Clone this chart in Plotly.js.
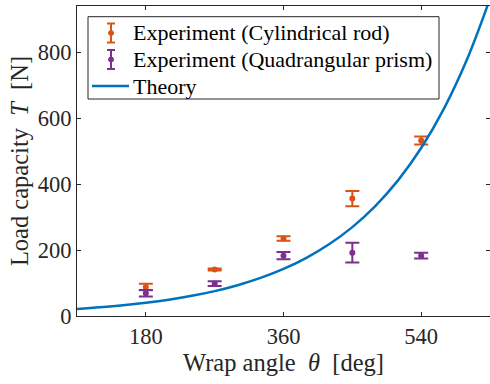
<!DOCTYPE html>
<html>
<head>
<meta charset="utf-8">
<script src="https://cdn.plot.ly/plotly-3.0.1.min.js"></script>
<style>html,body{margin:0;padding:0;background:#fff;}#chart{width:490px;height:384px;}</style>
</head>
<body>
<div id="chart"></div>
<script>
// Wrap angles (deg) of the experiments
const angles = [180, 270, 360, 450, 540];
// Experiment (Cylindrical rod): mean and error
const rodMean = [88, 141, 235, 356, 532];
const rodErr = [10, 3, 7, 23, 12];
// Experiment (Quadrangular prism): mean and error
const prismMean = [69, 98, 183, 192, 183];
const prismErr = [10, 7, 11, 30, 9];
// Theory curve
const theoryAngle = [90,120,150,180,210,240,270,300,330,360,390,420,450,480,510,540,570,600,630];
const theoryLoad = [21.2,26.2,32.3,40.0,49.4,61.1,75.5,93.4,115.4,142.7,176.4,218.1,269.6,333.3,412.0,509.3,629.6,778.3,962.2];
const xTicks = [180, 360, 540];
const yTicks = [0, 200, 400, 600, 800];
const legendNames = ['Experiment (Cylindrical rod)', 'Experiment (Quadrangular prism)', 'Theory'];

const cRod = '#D95319', cPrism = '#7E2F8E', cTheory = '#0072BD', cAx = '#262626';
const font = 'Liberation Serif, Times New Roman, serif';

const traces = [
  {x: angles, y: rodMean, type: 'scatter', mode: 'markers', showlegend: false,
   marker: {color: cRod, size: 6},
   error_y: {type: 'data', array: rodErr, visible: true, color: cRod, thickness: 2, width: 7}},
  {x: angles, y: prismMean, type: 'scatter', mode: 'markers', showlegend: false,
   marker: {color: cPrism, size: 6},
   error_y: {type: 'data', array: prismErr, visible: true, color: cPrism, thickness: 2, width: 7}},
  {x: theoryAngle, y: theoryLoad, type: 'scatter', mode: 'lines', showlegend: false,
   line: {color: cTheory, width: 2.5, shape: 'spline'}}
];

// manual legend (paper coordinates)
const L = 77, W = 413, B = 316, H = 310;
const px = v => (v - L) / W, py = v => (B - v) / H;
const rows = [33, 59.5, 86];
const shapes = [
  {type: 'rect', xref: 'paper', yref: 'paper', x0: px(88), x1: px(439), y0: py(99), y1: py(16.7),
   line: {color: cAx, width: 1}, fillcolor: 'white', layer: 'above'}
];
[[cRod, rows[0]], [cPrism, rows[1]]].forEach(([c, r]) => {
  shapes.push({type: 'line', xref: 'paper', yref: 'paper', x0: px(111), x1: px(111), y0: py(r - 9.5), y1: py(r + 9.5), line: {color: c, width: 2}, layer: 'above'});
  shapes.push({type: 'line', xref: 'paper', yref: 'paper', x0: px(107), x1: px(115), y0: py(r - 9.5), y1: py(r - 9.5), line: {color: c, width: 2}, layer: 'above'});
  shapes.push({type: 'line', xref: 'paper', yref: 'paper', x0: px(107), x1: px(115), y0: py(r + 9.5), y1: py(r + 9.5), line: {color: c, width: 2}, layer: 'above'});
  shapes.push({type: 'circle', xref: 'paper', yref: 'paper', x0: px(108.5), x1: px(113.5), y0: py(r + 2.5), y1: py(r - 2.5), line: {color: c, width: 1}, fillcolor: c, layer: 'above'});
});
shapes.push({type: 'line', xref: 'paper', yref: 'paper', x0: px(92), x1: px(129), y0: py(rows[2]), y1: py(rows[2]), line: {color: cTheory, width: 2.5}, layer: 'above'});

const annotations = legendNames.map((t, i) => ({
  text: t, xref: 'paper', yref: 'paper', x: px(131), y: py(rows[i]), xanchor: 'left', yanchor: 'middle',
  showarrow: false, font: {family: font, size: 22, color: '#000'}
}));

const layout = {
  width: 490, height: 384,
  margin: {l: L, r: 0, t: 6, b: 68},
  paper_bgcolor: 'white', plot_bgcolor: 'white',
  font: {family: font, size: 22, color: cAx},
  xaxis: {range: [90, 630], tickvals: xTicks, ticktext: xTicks.map(String),
    ticks: 'inside', ticklen: 4, tickcolor: cAx, showline: true, linecolor: cAx, linewidth: 1,
    mirror: 'ticks', showgrid: false, zeroline: false,
    tickfont: {family: font, size: 22.5, color: cAx},
    title: {text: 'Wrap angle\u00A0\u00A0<i>θ</i>\u00A0\u00A0[deg]', font: {family: font, size: 24.5, color: cAx}, standoff: 2}},
  yaxis: {range: [0, 940], tickvals: yTicks, ticktext: yTicks.map(String),
    ticks: 'inside', ticklen: 4, tickcolor: cAx, showline: true, linecolor: cAx, linewidth: 1,
    mirror: 'ticks', showgrid: false, zeroline: false,
    tickfont: {family: font, size: 22.5, color: cAx},
    title: {text: 'Load capacity\u00A0\u00A0<i>T</i>\u00A0\u00A0[N]', font: {family: font, size: 24.5, color: cAx}, standoff: 2}},
  shapes: shapes,
  annotations: annotations
};

Plotly.newPlot('chart', traces, layout, {staticPlot: true, displayModeBar: false});
</script>
</body>
</html>
